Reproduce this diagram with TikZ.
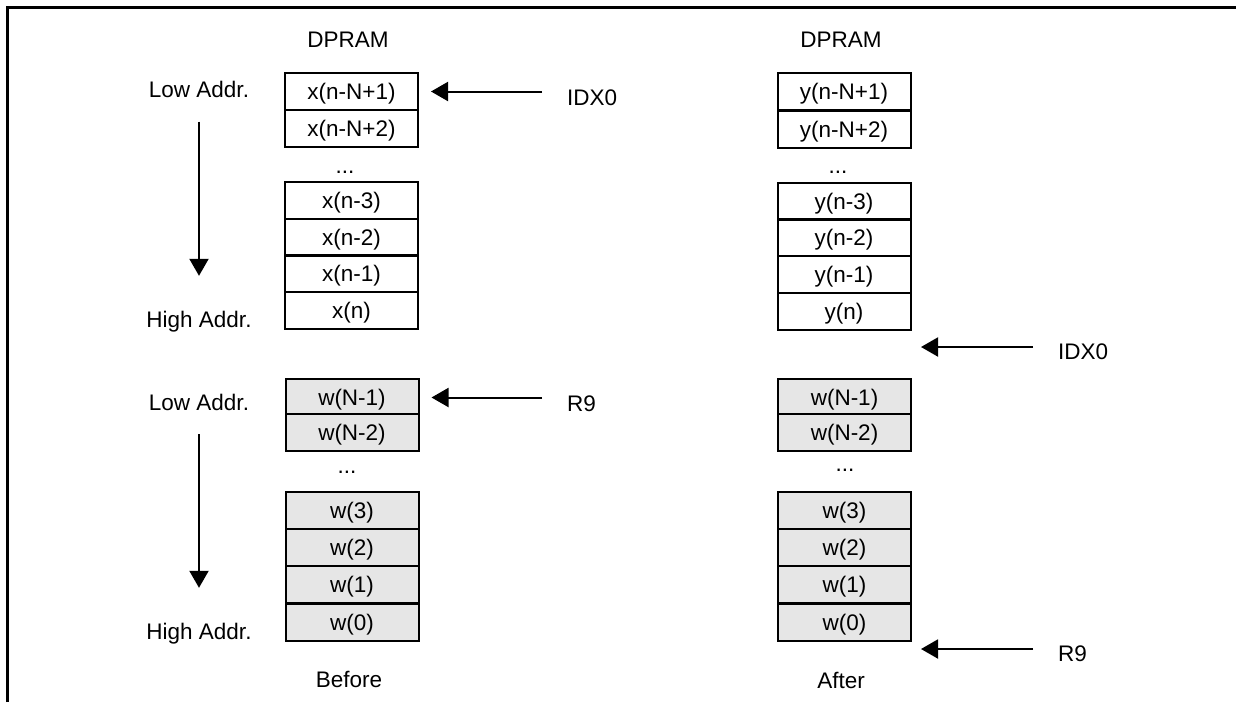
\documentclass[tikz,border=0pt]{standalone}
\usepackage{fontspec}
\setmainfont{Liberation Sans}
\usetikzlibrary{arrows.meta}
\definecolor{cellgray}{RGB}{230,230,230}
\begin{document}
\begin{tikzpicture}[x=1pt,y=-1pt,
  font=\fontsize{22.5}{27}\selectfont,
  cell/.style={draw=black, line width=2pt, minimum width=133pt, minimum height=37pt,
    inner sep=0pt, text height=16pt, text depth=0pt},
  wcell/.style={cell, fill=cellgray},
  lbl/.style={inner sep=0pt, text height=16pt, text depth=0pt},
  arr/.style={line width=2pt, -{Triangle[width=19pt,length=17pt]}},
  frame/.style={line width=3pt}]
\useasboundingbox (0,0) rectangle (1236,702);
% frame (top and left edges)
\draw[frame] (7.5,702) -- (7.5,7.5) -- (1236,7.5);

% ---------- Before ----------
\node[lbl] (dpramA) at (348,39) {DPRAM};
\node[lbl] (lowA) at (199,89.5) {Low Addr.};
\node[lbl] (highA) at (199,319) {High Addr.};
\draw[arr, shorten <=24pt, shorten >=35pt] (lowA.south) -- (highA.north);

\node[cell] (xa) at (351.5,91.5) {x(n-N+1)};
\node[cell] (xb) at (351.5,128.5) {x(n-N+2)};
\node[lbl] (dxa) at (345,165) {...};
\node[cell] (xc) at (351.5,200.5) {x(n-3)};
\node[cell] (xd) at (351.5,237.5) {x(n-2)};
\node[cell] (xe) at (351.5,273.5) {x(n-1)};
\node[cell] (xf) at (351.5,310.5) {x(n)};

\node[lbl, anchor=west] (idxA) at (567,97) {IDX0};
\draw[arr, shorten <=25pt, shorten >=12pt] (idxA.west |- xa.east) -- (xa.east);

\node[lbl] (lowB) at (199,402) {Low Addr.};
\node[lbl] (highB) at (199,631) {High Addr.};
\draw[arr, shorten <=24pt, shorten >=35pt] (lowB.south) -- (highB.north);

\node[wcell] (wa) at (352,397.5) {w(N-1)};
\node[wcell] (wb) at (352,432.5) {w(N-2)};
\node[lbl] (dwa) at (347,465) {...};
\node[wcell] (wc) at (352,510) {w(3)};
\node[wcell] (wd) at (352,547.5) {w(2)};
\node[wcell] (we) at (352,584.5) {w(1)};
\node[wcell] (wf) at (352,622) {w(0)};

\node[lbl, anchor=west] (r9A) at (567,403) {R9};
\draw[arr, shorten <=25pt, shorten >=12pt] (r9A.west |- wa.east) -- (wa.east);

\node[lbl] (before) at (349,679) {Before};

% ---------- After ----------
\node[lbl] (dpramB) at (841,39) {DPRAM};
\node[cell] (ya) at (844,91.5) {y(n-N+1)};
\node[cell] (yb) at (844,129) {y(n-N+2)};
\node[lbl] (dya) at (838,165) {...};
\node[cell] (yc) at (844,201) {y(n-3)};
\node[cell] (yd) at (844,237.5) {y(n-2)};
\node[cell] (ye) at (844,274.5) {y(n-1)};
\node[cell] (yf) at (844,311.5) {y(n)};

\node[lbl, anchor=west] (idxB) at (1058,351) {IDX0};
\coordinate (idxBtail) at (1033,347);
\coordinate (idxBtip) at (921,347);
\draw[arr] (idxBtail) -- (idxBtip);

\node[wcell] (va) at (844.5,397.5) {w(N-1)};
\node[wcell] (vb) at (844.5,432.5) {w(N-2)};
\node[lbl] (dva) at (845,463) {...};
\node[wcell] (vc) at (844.5,510) {w(3)};
\node[wcell] (vd) at (844.5,547.5) {w(2)};
\node[wcell] (ve) at (844.5,584.5) {w(1)};
\node[wcell] (vf) at (844.5,622) {w(0)};

\node[lbl, anchor=west] (r9B) at (1058,653) {R9};
\coordinate (r9Btail) at (1033,649);
\coordinate (r9Btip) at (921,649);
\draw[arr] (r9Btail) -- (r9Btip);

\node[lbl] (after) at (841,680) {After};
\end{tikzpicture}
\end{document}
